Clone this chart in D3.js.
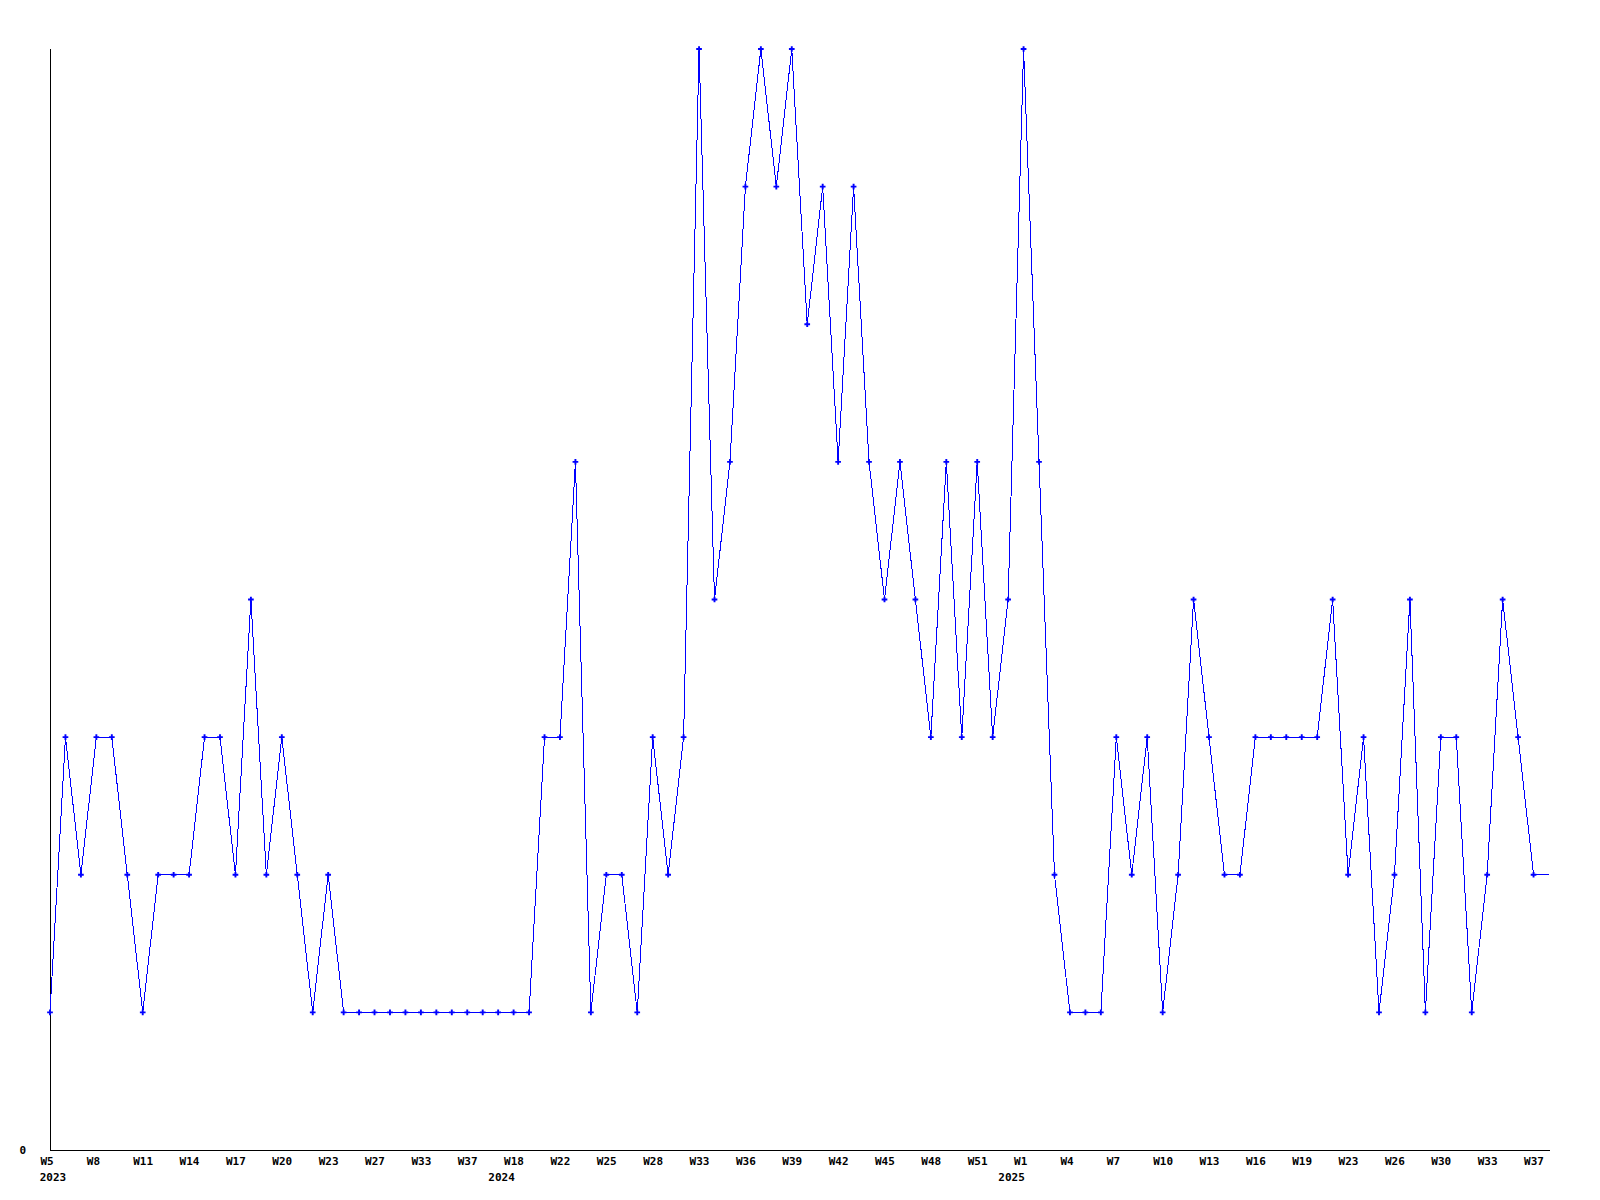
<!DOCTYPE html>
<html>
<head>
<meta charset="utf-8">
<script src="https://cdn.jsdelivr.net/npm/d3@7"></script>
<style>
    html, body { margin: 0; padding: 0; background: #ffffff; }
    svg { display: block; }
    text { font-family: "DejaVu Sans Mono", "Liberation Mono", monospace; font-weight: bold; font-size: 11px; fill: #000000; }
</style>
</head>
<body>
<svg id="chart" width="1600" height="1200"></svg>
<script>

// Weeks (year-week), one per point
const weeks = [
    "2023-W5", "2023-W6", "2023-W7", "2023-W8", "2023-W9", "2023-W10", "2023-W11", "2023-W12", "2023-W13", "2023-W14",
    "2023-W15", "2023-W16", "2023-W17", "2023-W18", "2023-W19", "2023-W20", "2023-W21", "2023-W22", "2023-W23", "2023-W24",
    "2023-W26", "2023-W27", "2023-W29", "2023-W31", "2023-W33", "2023-W34", "2023-W36", "2023-W37", "2023-W41", "2024-W12",
    "2024-W18", "2024-W20", "2024-W21", "2024-W22", "2024-W23", "2024-W24", "2024-W25", "2024-W26", "2024-W27", "2024-W28",
    "2024-W30", "2024-W31", "2024-W33", "2024-W34", "2024-W35", "2024-W36", "2024-W37", "2024-W38", "2024-W39", "2024-W40",
    "2024-W41", "2024-W42", "2024-W43", "2024-W44", "2024-W45", "2024-W46", "2024-W47", "2024-W48", "2024-W49", "2024-W50",
    "2024-W51", "2024-W52", "2024-W53", "2025-W1", "2025-W2", "2025-W3", "2025-W4", "2025-W5", "2025-W6", "2025-W7",
    "2025-W8", "2025-W9", "2025-W10", "2025-W11", "2025-W12", "2025-W13", "2025-W14", "2025-W15", "2025-W16", "2025-W17",
    "2025-W18", "2025-W19", "2025-W20", "2025-W22", "2025-W23", "2025-W24", "2025-W25", "2025-W26", "2025-W27", "2025-W28",
    "2025-W30", "2025-W31", "2025-W32", "2025-W33", "2025-W34", "2025-W35", "2025-W37", "2025-W38"
];

// Counts per week
const counts = [
    1, 3, 2, 3, 3, 2, 1, 2, 2, 2,
    3, 3, 2, 4, 2, 3, 2, 1, 2, 1,
    1, 1, 1, 1, 1, 1, 1, 1, 1, 1,
    1, 1, 3, 3, 5, 1, 2, 2, 1, 3,
    2, 3, 8, 4, 5, 7, 8, 7, 8, 6,
    7, 5, 7, 5, 4, 5, 4, 3, 5, 3,
    5, 3, 4, 8, 5, 2, 1, 1, 1, 3,
    2, 3, 1, 2, 4, 3, 2, 2, 3, 3,
    3, 3, 3, 4, 2, 3, 1, 2, 4, 1,
    3, 3, 1, 2, 4, 3, 2, 2
];

// Y axis ticks and label step of the x axis
const yTicks = [0];
const yMax = 8;
const labelStep = 3;

// Canvas
const width = 1600;
const height = 1200;
const plotLeft = 50;
const plotRight = 1549;
const plotTop = 49;
const plotBottom = 1150;

const svg = d3.select("#chart");

svg.append("rect")
    .attr("width", width)
    .attr("height", height)
    .attr("fill", "#ffffff");

// Scales
let x = d3.scalePoint()
    .domain(d3.range(weeks.length))
    .range([plotLeft, plotRight]);

let y = d3.scaleLinear()
    .domain([0, yMax])
    .range([plotBottom, plotTop]);

// Split "2023-W5" into year and week
let yearOf = i => weeks[i].split("-")[0];
let weekOf = i => weeks[i].split("-")[1];

let labelIndexes = d3.range(0, weeks.length, labelStep);

// X axis (weeks)
let xAxisG = svg.append("g")
    .attr("transform", "translate(0," + plotBottom + ")")
    .call(d3.axisBottom(x)
        .tickValues(labelIndexes)
        .tickSize(0)
        .tickSizeOuter(0)
        .tickPadding(0)
        .tickFormat(i => weekOf(i)));

xAxisG.select(".domain")
    .attr("stroke", "#000000")
    .attr("shape-rendering", "crispEdges")
    .attr("d", "M" + plotLeft + ",0.5H" + (plotRight + 1));

xAxisG.selectAll(".tick text")
    .attr("text-anchor", "start")
    .attr("x", -10)
    .attr("y", 15)
    .attr("dy", 0)
    .attr("fill", "#000000");

// Year under the first label of each year
let prevYear = null;
for (let i of labelIndexes) {
    let yr = yearOf(i);
    if (yr !== prevYear) {
        let cx = Math.max(x(i) - 12, plotLeft + 3);
        svg.append("text")
            .attr("x", cx)
            .attr("y", plotBottom + 31)
            .attr("text-anchor", "middle")
            .text(yr);
        prevYear = yr;
    }
}

// Y axis (only the zero label)
let yAxisG = svg.append("g")
    .attr("transform", "translate(" + plotLeft + ",0)")
    .call(d3.axisLeft(y)
        .tickValues(yTicks)
        .tickSize(0)
        .tickSizeOuter(0)
        .tickPadding(24));

yAxisG.select(".domain")
    .attr("stroke", "#000000")
    .attr("shape-rendering", "crispEdges")
    .attr("d", "M0.5," + plotTop + "V" + (plotBottom + 1));

yAxisG.selectAll(".tick text")
    .attr("fill", "#000000");

// Line
let line = d3.line()
    .x((d, i) => x(i))
    .y(d => y(d));

svg.append("path")
    .datum(counts)
    .attr("d", line)
    .attr("fill", "none")
    .attr("stroke", "#0000ff")
    .attr("stroke-width", 1)
    .attr("shape-rendering", "crispEdges");

// Point markers (the last, still running week has none)
let marker = d3.symbol().type(d3.symbolCross).size(18);

svg.append("g")
    .selectAll("path")
    .data(counts.slice(0, counts.length - 1))
    .join("path")
    .attr("transform", (d, i) => "translate(" + x(i) + "," + y(d) + ")")
    .attr("d", marker)
    .attr("fill", "#0000ff");

</script>
</body>
</html>
